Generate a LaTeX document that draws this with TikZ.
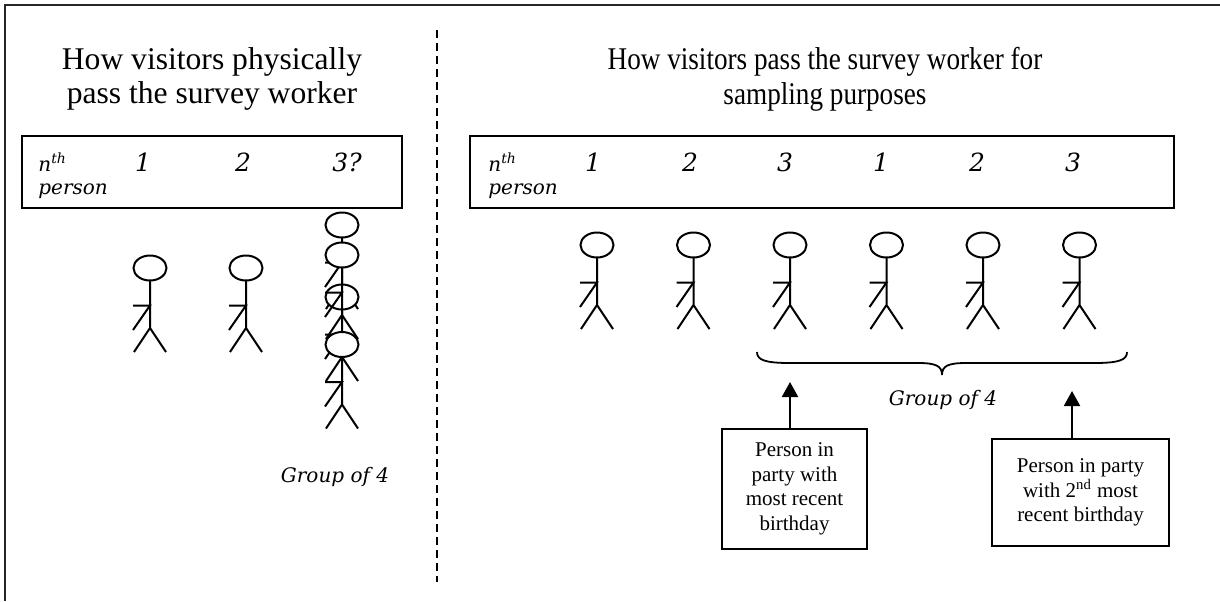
\documentclass[tikz,border=0pt]{standalone}
\usepackage{fontspec}
\setmainfont{Liberation Serif}
\newfontfamily\markfont{DejaVu Serif}
\usetikzlibrary{arrows.meta}

\begin{document}
\begin{tikzpicture}[x=0.5pt,y=-0.5pt,
  frame/.style={line width=1.2pt, black!85},
  divider/.style={line width=1pt, dash pattern=on 4pt off 2.5pt},
  table/.style={draw, line width=1pt, minimum height=36pt, inner sep=0pt},
  title/.style={font=\fontsize{15.8}{17.3}\selectfont, align=center, inner sep=0pt},
  rowtag/.style={font=\markfont\itshape\fontsize{10}{12}\selectfont, anchor=base west, inner sep=0pt},
  digit/.style={font=\markfont\itshape\fontsize{12.5}{14}\selectfont, anchor=base, inner sep=0pt},
  grouplabel/.style={font=\markfont\itshape\fontsize{10}{12}\selectfont, anchor=base, inner sep=0pt},
  notebox/.style={draw, line width=0.8pt, align=center, inner sep=0pt,
    font=\fontsize{10.5}{12.3}\selectfont},
  pointer/.style={line width=1pt, -{Triangle[width=8pt,length=7.5pt]}},
  limb/.style={line width=1pt},
  stick/.pic={
    \draw[limb] (0,12.5) -- (0,60) -- (-16,84) (0,60) -- (16,84);
    \draw[limb] (-17,37.5) -- (0,37.5) -- (-17,62);
    \draw[limb, fill=white] (0,0) ellipse [x radius=16.5, y radius=12.5];
  }
]
\useasboundingbox (0,0) rectangle (1220,601);

% outer frame and the dashed divider between the two panels
\draw[frame] (5,601) -- (5,5) -- (1220,5);
\draw[divider] (437,30) -- (437,582);

% ---------- left panel ----------
\node[title] (titleL) at (212,79) {How visitors physically\\pass the survey worker};
\node[table, minimum width=190pt] (tabL) at (212,172) {};
\node[rowtag] (nL) at (38,171) {n\textsuperscript{th}};
\node[rowtag] (pL) at (38,194) {person};
\node[digit] (dL1) at (143,171) {1};
\node[digit] (dL2) at (243,171) {2};
\node[digit] (dL3) at (347,171) {3?};

\pic at (150,268) {stick};
\pic at (246,268) {stick};
% a party of four bunched up in one place
\pic at (342,225) {stick};
\pic at (342,297) {stick};
\pic at (342,255) {stick};
\pic at (342,344.5) {stick};

\node[grouplabel] (gL) at (335,482) {Group of 4};

% ---------- right panel ----------
% the long heading is set slightly condensed
\begin{scope}[shift={(825,79)}, xscale=0.86]
  \node[title, transform shape] (titleR) at (0,0)
    {How visitors pass the survey worker for\\sampling purposes};
\end{scope}
\node[table, minimum width=352pt] (tabR) at (822,172) {};
\node[rowtag] (nR) at (488,171) {n\textsuperscript{th}};
\node[rowtag] (pR) at (488,194) {person};
\foreach \x/\d [count=\i] in {593/1,690/2,785/3,881/1,977/2,1073/3}
  \node[digit] (dR\i) at (\x,171) {\d};

\foreach \x in {597,693.5,790,886.5,983,1079.5}
  \pic at (\x,245) {stick};

% brace spanning the last four people
\draw[line width=0.9pt] (757,352) .. controls (757,360) and (765,363) .. (790,363)
  -- (918,363) .. controls (936,363) and (942,366) .. (942,375)
  .. controls (942,366) and (948,363) .. (966,363)
  -- (1094,363) .. controls (1119,363) and (1127,360) .. (1127,352);
\node[grouplabel] (gR) at (943,405) {Group of 4};

% selection notes with pointers
\node[notebox, minimum width=72.5pt, minimum height=60pt] (b1) at (794.5,489)
  {Person in\\party with\\most recent\\birthday};
\node[notebox, minimum width=88.5pt, minimum height=53.5pt] (b2) at (1080.5,492.5)
  {Person in party\\with 2\textsuperscript{nd} most\\recent birthday};
\coordinate (t1) at (790,382);
\coordinate (t2) at (1072,391);
\draw[pointer] (b1.north -| t1) -- (t1);
\draw[pointer] (b2.north -| t2) -- (t2);
\end{tikzpicture}
\end{document}
